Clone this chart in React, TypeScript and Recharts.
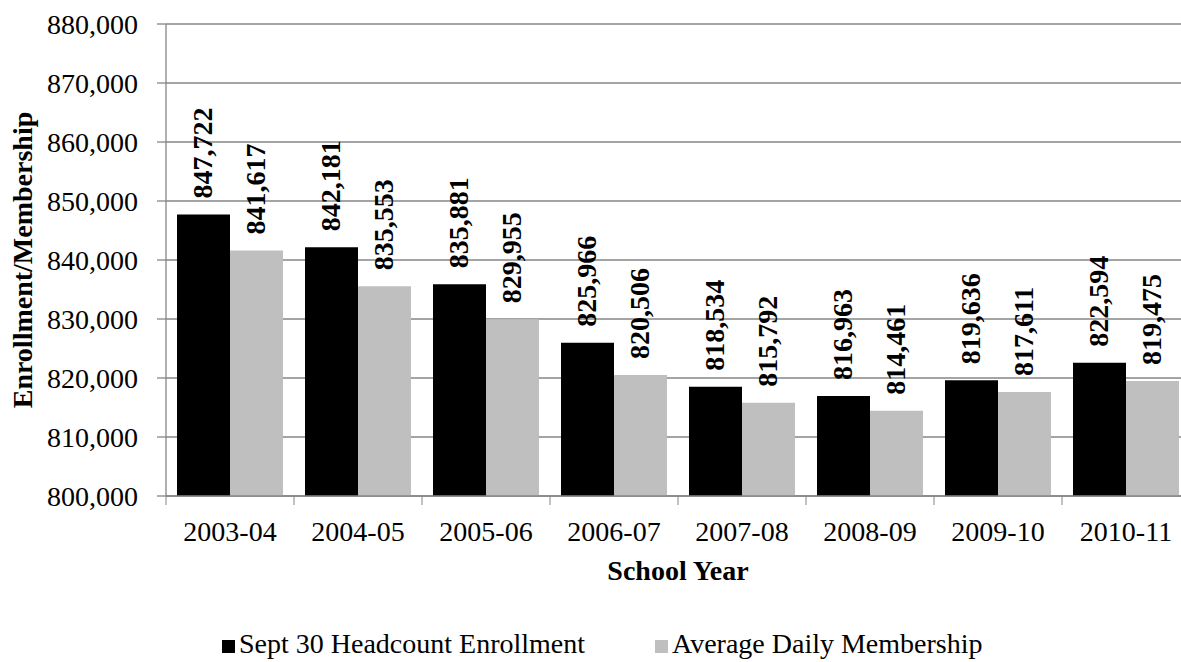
import React from 'react';
import {
  BarChart,
  Bar,
  XAxis,
  YAxis,
  CartesianGrid,
  Legend,
  LabelList,
} from 'recharts';

const years = ['2003-04', '2004-05', '2005-06', '2006-07', '2007-08', '2008-09', '2009-10', '2010-11'];
const headcount = [847722, 842181, 835881, 825966, 818534, 816963, 819636, 822594];
const membership = [841617, 835553, 829955, 820506, 815792, 814461, 817611, 819475];
const yTicks = [800000, 810000, 820000, 830000, 840000, 850000, 860000, 870000, 880000];

const seriesNames = ['Sept 30 Headcount Enrollment', 'Average Daily Membership'];
const colors = ['#000000', '#bfbfbf'];

const font = '"Liberation Serif", "Times New Roman", serif';
const axisGray = '#868686';

const data = years.map((year, i) => ({
  year,
  headcount: headcount[i],
  membership: membership[i],
}));

const fmt = (v: number) => v.toLocaleString('en-US');

// rotated value label sitting above each bar
const BarValue = (props: any) => {
  const { x, y, width, value } = props;
  const cx = x + width / 2 + 9;
  const ty = y - 16;
  return (
    <text
      x={cx}
      y={ty}
      transform={`rotate(-90, ${cx}, ${ty})`}
      textAnchor="start"
      fontFamily={font}
      fontWeight="bold"
      fontSize={28}
      fill="#000"
    >
      {fmt(value)}
    </text>
  );
};

// category tick: the tick marks sit on the category boundaries
const YearTick = (props: any) => {
  const { x, y, payload, index } = props;
  const off = payload.offset ?? 64;
  return (
    <g>
      <line x1={x - off} x2={x - off} y1={y} y2={y + 9} stroke={axisGray} />
      {index === years.length - 1 && (
        <line x1={x + off} x2={x + off} y1={y} y2={y + 9} stroke={axisGray} />
      )}
      <text x={x} y={y + 45} textAnchor="middle" fontFamily={font} fontSize={28} fill="#000">
        {payload.value}
      </text>
    </g>
  );
};

const LegendBox = () => (
  <div style={{ position: 'relative', height: 36, fontFamily: font, fontSize: 28, color: '#000' }}>
    {seriesNames.map((name, i) => (
      <div
        key={name}
        style={{
          position: 'absolute',
          left: i === 0 ? 222 : 655,
          top: 0,
          height: 36,
          lineHeight: '36px',
          whiteSpace: 'nowrap',
          display: 'flex',
          alignItems: 'center',
        }}
      >
        <span
          style={{
            display: 'inline-block',
            width: 13,
            height: 13,
            background: colors[i],
            marginRight: 4,
            marginTop: 4,
          }}
        />
        <span>{name}</span>
      </div>
    ))}
  </div>
);

export default function App() {
  return (
    <div
      style={{
        position: 'absolute',
        left: 0,
        top: 0,
        width: 1181,
        height: 662,
        overflow: 'hidden',
        background: '#fff',
        fontFamily: font,
      }}
    >
      <BarChart
        width={1200}
        height={662}
        data={data}
        margin={{ top: 24, right: 10, left: 0, bottom: 0 }}
        barCategoryGap={11}
        barGap={0}
      >
        <CartesianGrid vertical={false} stroke={axisGray} strokeWidth={1.3} />
        <XAxis
          dataKey="year"
          height={130}
          tickLine={false}
          tickSize={0}
          tickMargin={0}
          axisLine={{ stroke: axisGray, strokeWidth: 1.3 }}
          tick={<YearTick />}
          interval={0}
          label={{
            value: 'School Year',
            content: (p: any) => {
              const vb = p.viewBox;
              return (
                <text
                  x={vb.x + vb.width / 2}
                  y={vb.y + 84}
                  textAnchor="middle"
                  fontFamily={font}
                  fontWeight="bold"
                  fontSize={28}
                  fill="#000"
                >
                  School Year
                </text>
              );
            },
          }}
        />
        <YAxis
          width={166}
          domain={[800000, 880000]}
          ticks={yTicks}
          interval={0}
          tickFormatter={fmt}
          tickSize={9}
          tickMargin={19}
          tickLine={{ stroke: axisGray, strokeWidth: 1.3 }}
          axisLine={{ stroke: axisGray, strokeWidth: 1.3 }}
          tick={{ fill: '#000', fontSize: 28, fontFamily: font }}
          label={{
            value: 'Enrollment/Membership',
            content: (p: any) => {
              const vb = p.viewBox;
              const tx = vb.x + 32;
              const ty = vb.y + vb.height / 2;
              return (
                <text
                  x={tx}
                  y={ty}
                  transform={`rotate(-90, ${tx}, ${ty})`}
                  textAnchor="middle"
                  fontFamily={font}
                  fontWeight="bold"
                  fontSize={28}
                  fill="#000"
                >
                  Enrollment/Membership
                </text>
              );
            },
          }}
        />
        <Legend verticalAlign="bottom" content={<LegendBox />} />
        <Bar dataKey="headcount" name={seriesNames[0]} fill={colors[0]} isAnimationActive={false}>
          <LabelList dataKey="headcount" content={<BarValue />} />
        </Bar>
        <Bar dataKey="membership" name={seriesNames[1]} fill={colors[1]} isAnimationActive={false}>
          <LabelList dataKey="membership" content={<BarValue />} />
        </Bar>
      </BarChart>
    </div>
  );
}
